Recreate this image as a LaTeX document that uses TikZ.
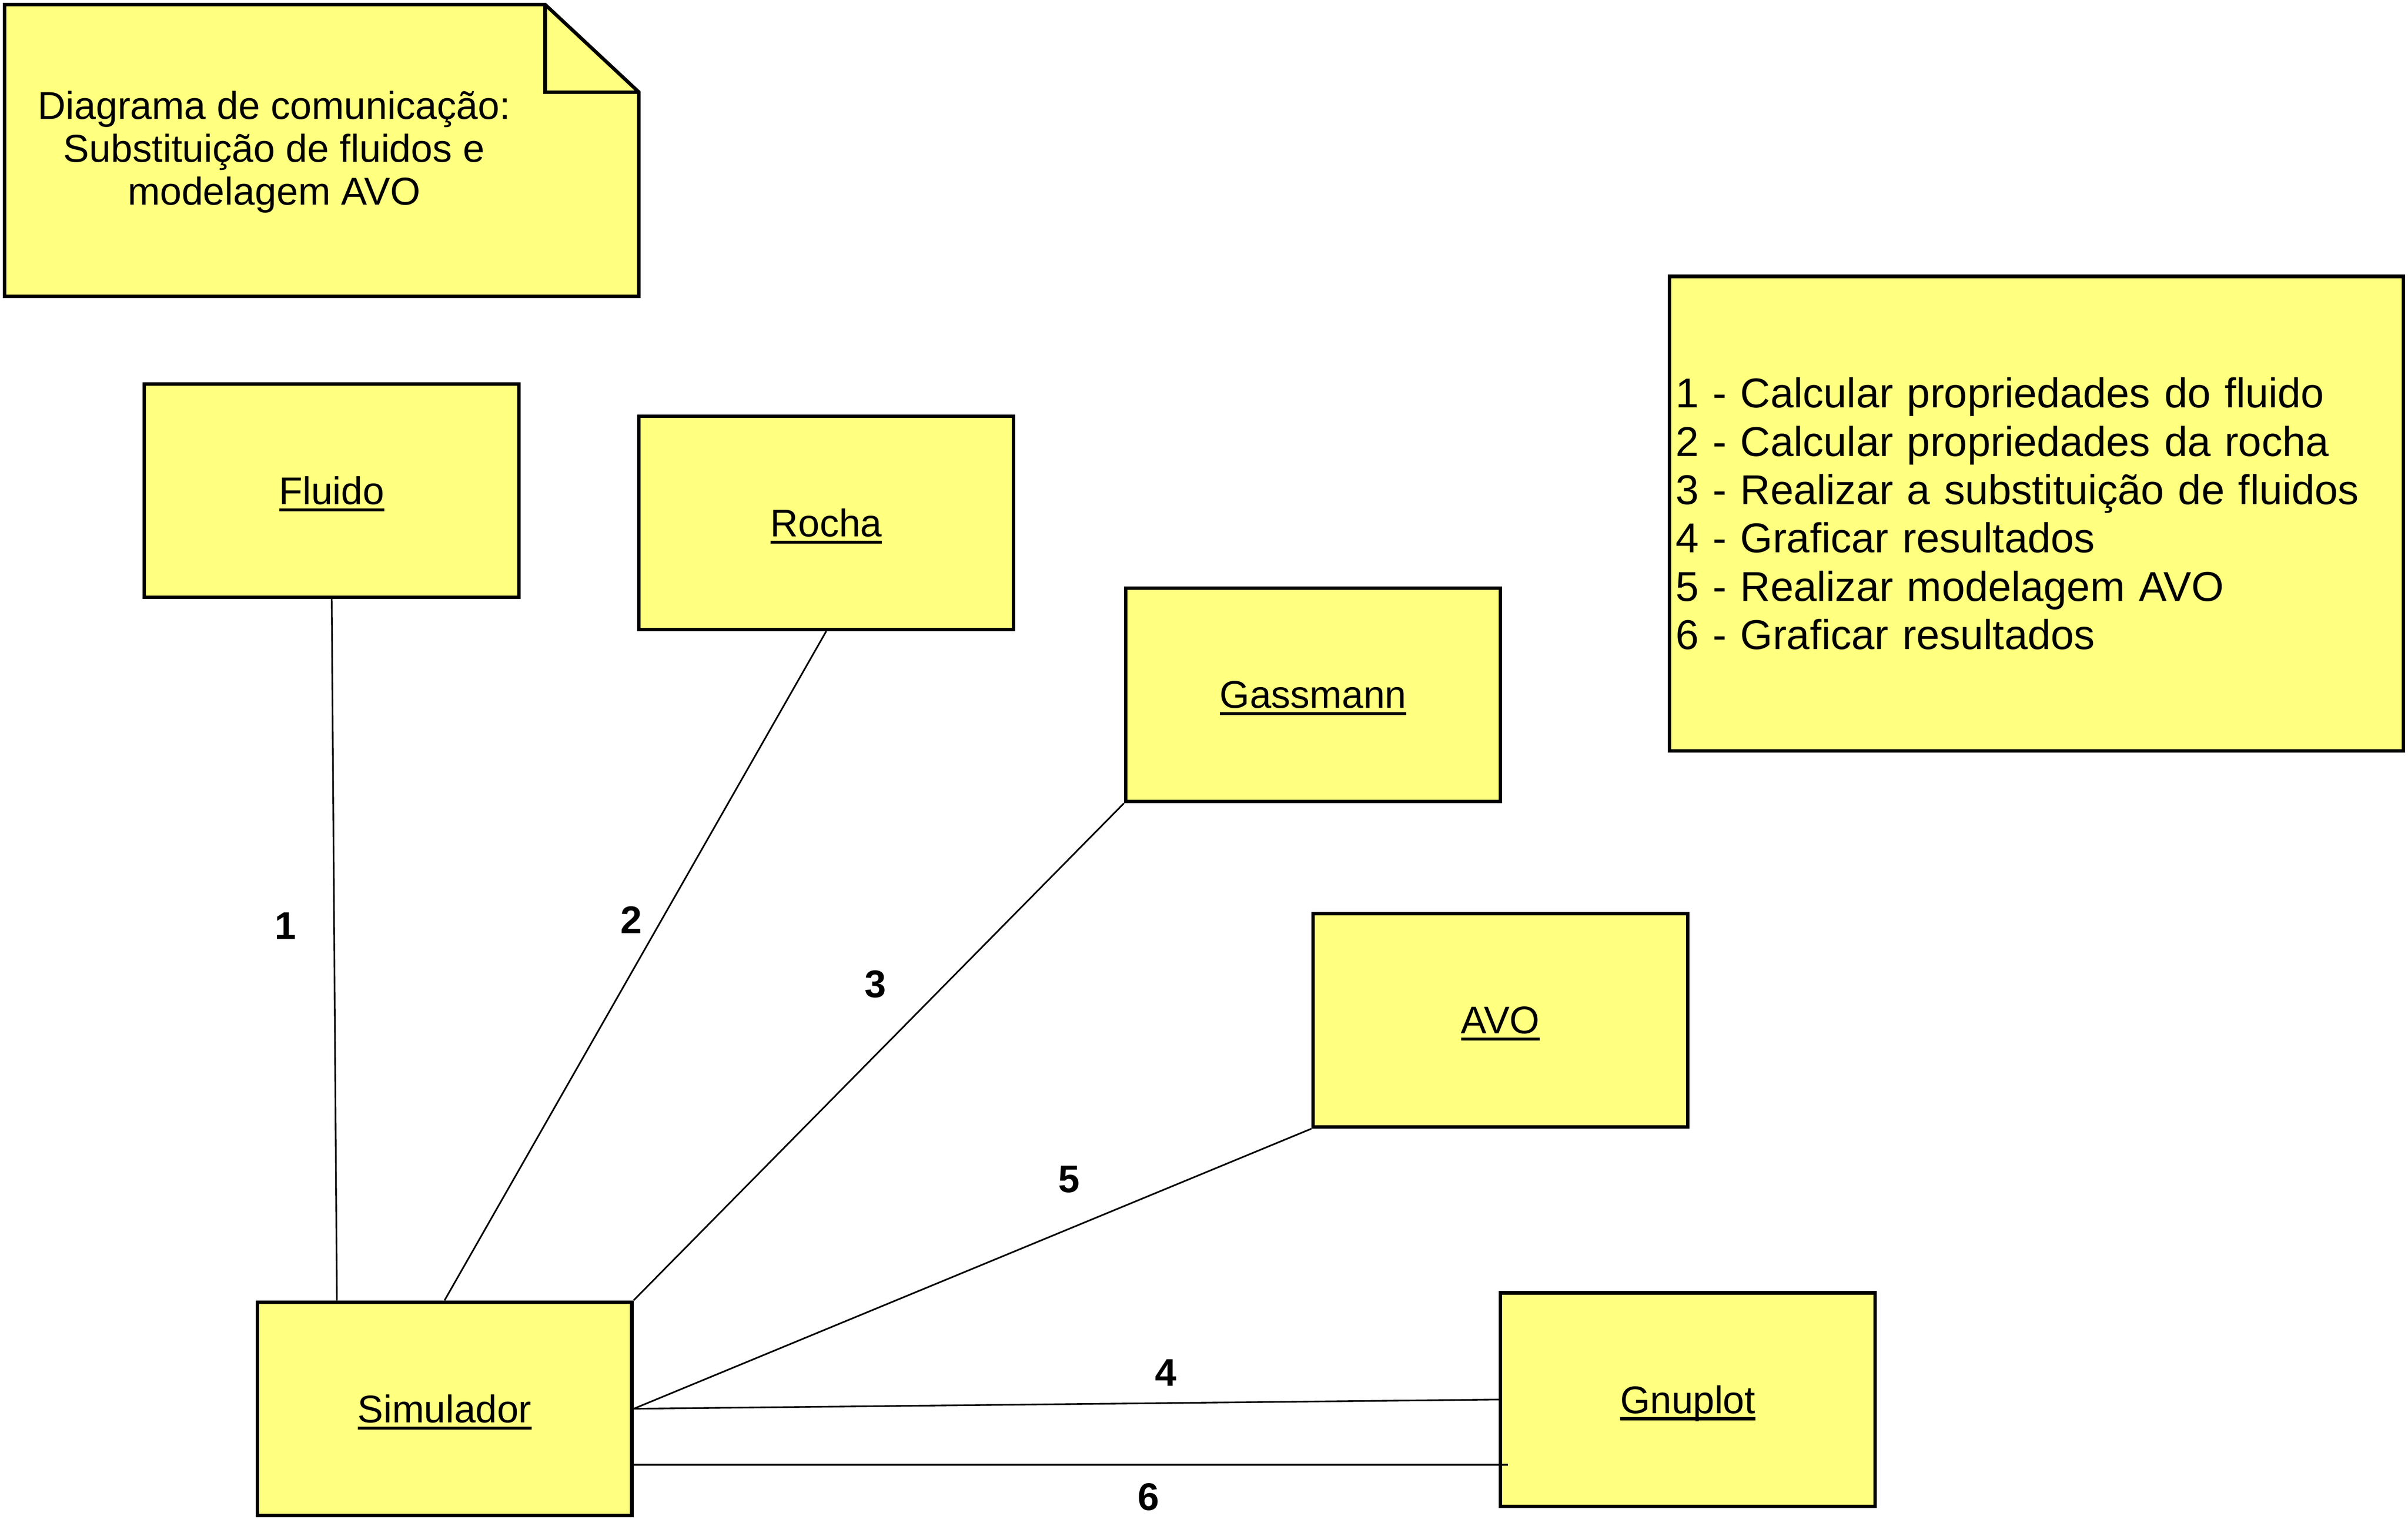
\documentclass[tikz,border=0pt]{standalone}
\usepackage{fontspec}
\setmainfont{Liberation Sans}
\definecolor{umlyellow}{RGB}{255,255,128}
\newcommand{\objname}[1]{\setbox0\hbox{#1}\rlap{\smash{\vrule height -1.4pt depth 2.5pt width \wd0}}\box0}

\begin{document}
\begin{tikzpicture}[
                x=0.02cm,
                y=-0.02cm,
                object/.style={
                  draw,
                  line width=1.3pt,
                  fill=umlyellow,
                  minimum width=4.88cm,
                  minimum height=2.78cm,
                  text depth=0pt,
                  font=\fontsize{14.3}{17}\selectfont,
                },
                num/.style={font=\fontsize{14.3}{17}\selectfont\bfseries},
                link/.style={line width=0.6pt},
              ]
              \useasboundingbox (0,0) rectangle (1568,991.8);
              % note
              \draw[line width=1.3pt, fill=umlyellow, line join=miter]
                (3,3) -- (355,3) -- (416,60) -- (416,193) -- (3,193) -- cycle;
              \draw[line width=1.3pt] (355,3) -- (355,60) -- (416,60);
              \node[align=center, font=\fontsize{14.4}{15.9}\selectfont] (title) at (178.5,99)
                {Diagrama de comunicação:\\Substituição de fluidos e\\modelagem AVO};
              % legend
              \node[draw, line width=1.3pt, fill=umlyellow, minimum width=9.56cm,
                    minimum height=6.18cm, text width=9.4cm, inner sep=0.08cm, align=left,
                    font=\fontsize{15.45}{17.9}\selectfont] (legend) at (1326,334.5)
                {1 - Calcular propriedades do fluido\\
                 2 - Calcular propriedades da rocha\\
                 3 - Realizar a substituição de fluidos\\
                 4 - Graficar resultados\\
                 5 - Realizar modelagem AVO\\
                 6 - Graficar resultados};
              % objects
              \node[object] at (216,319.5) (fluido) {\objname{Fluido}} ;
              \node[object] at (538,340.5) (rocha) {\objname{Rocha}} ;
              \node[object] at (855,452.5) (gassmann) {\objname{Gassmann}} ;
              \node[object] at (977,664.5) (avo) {\objname{AVO}} ;
              \node[object] at (1099,911.5) (gnuplot) {\objname{Gnuplot}} ;
              \node[object] at (289.5,917.5) (sim) {\objname{Simulador}} ;
              % links
              \draw[link] (fluido.south)--([xshift=1.06cm]sim.north west) ;
              \draw[link] (rocha.south)--(sim.north) ;
              \draw[link] (gassmann.south west)--(sim.north east) ;
              \draw[link] (avo.south west)--(sim.east) ;
              \draw[link] (sim.east)--(gnuplot.west) ;
              \coordinate (c6) at ([yshift=-0.73cm]sim.east) ;
              \draw[link] (c6)--([xshift=0.12cm]gnuplot.west |- c6) ;
              % message numbers
              \node[num] at (186,603) (n1) {1} ;
              \node[num] at (411,599) (n2) {2} ;
              \node[num] at (570,641) (n3) {3} ;
              \node[num] at (759,894) (n4) {4} ;
              \node[num] at (696,768) (n5) {5} ;
              \node[num] at (748,975) (n6) {6} ;
              \end{tikzpicture}
\end{document}
